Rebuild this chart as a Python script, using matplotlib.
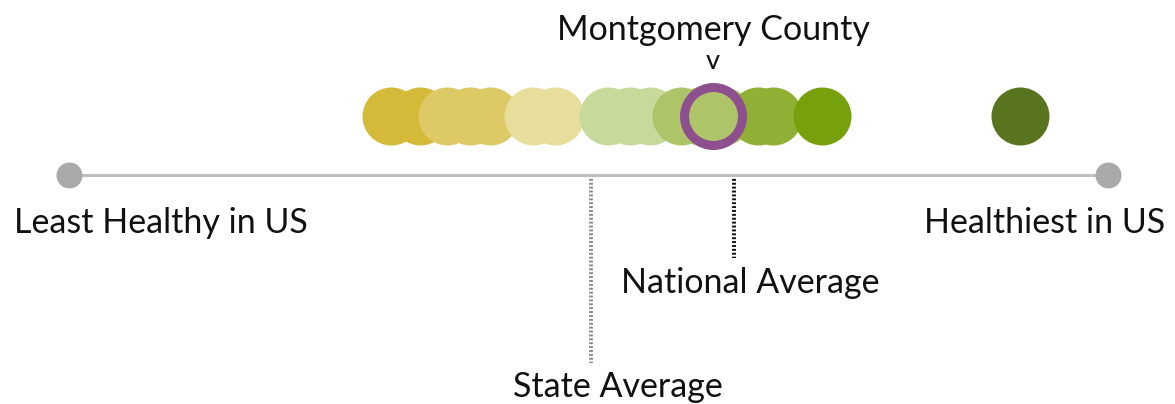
import matplotlib
matplotlib.use("Agg")
import matplotlib.pyplot as plt

# ---- data (score scale: 0 = least healthy in US, 100 = healthiest in US) ----
county_scores = [31.0, 33.8, 36.4, 38.6, 40.5, 44.7, 46.8, 51.9, 54.0, 55.9,
                 58.9, 60.7, 62.9, 66.3, 67.8, 72.5, 91.5]
county_colors = ["#D4BA38", "#D4BA38", "#DDCA67", "#DDCA67", "#DDCA67",
                 "#E8DE9C", "#E8DE9C", "#C7DA9C", "#C7DA9C", "#C7DA9C",
                 "#AEC468", "#AEC468", "#AEC468", "#8FB034", "#8FB034",
                 "#76A00C", "#58741F"]
highlight_name = "Montgomery County"
highlight_score = 62.0
highlight_color = "#AEC468"
state_avg = 50.2
national_avg = 64.0
scale_min, scale_max = 0.0, 100.0
end_labels = ["Least Healthy in US", "Healthiest in US"]

plt.rcParams['font.family'] = ['Lato', 'DejaVu Sans']
FS = 24.5

fig = plt.figure(figsize=(11.75, 4.04), dpi=100)
ax = fig.add_axes([0, 0, 1, 1])
ax.set_xlim(-6.641, 106.45)
ax.set_ylim(404, 0)
ax.axis('off')

Y_DOT = 116
Y_AXIS = 175

# axis line with end points
ax.plot([scale_min, scale_max], [Y_AXIS, Y_AXIS], color="#BFBFBF", lw=2.2,
        zorder=1, solid_capstyle='butt')
ax.scatter([scale_min, scale_max], [Y_AXIS, Y_AXIS], s=(26 * 0.72) ** 2,
           color="#AAAAAA", zorder=2, linewidths=0)

# averages
ax.plot([state_avg, state_avg], [Y_AXIS, 363], color="#8A8A8A", lw=2.8,
        ls=(0, (0.5, 0.5)), zorder=0)
ax.plot([national_avg, national_avg], [Y_AXIS, 258], color="#111111", lw=2.8,
        ls=(0, (0.5, 0.5)), zorder=0)

# counties
d = 58 * 0.72
for i, (s, c) in enumerate(zip(county_scores, county_colors)):
    ax.scatter([s], [Y_DOT], s=d ** 2, color=c, linewidths=0, zorder=3 + i * 0.01)

# highlight county
ax.scatter([highlight_score], [Y_DOT], s=d ** 2, facecolor=highlight_color,
           edgecolor="#8E4F8E", linewidths=9 * 0.72, zorder=4)

# texts
ax.text(highlight_score, 40, highlight_name, ha='center', va='baseline',
        fontsize=FS, color="#111111")
ax.text(highlight_score, 69, "v", ha='center', va='baseline',
        fontsize=FS * 0.8, color="#111111")
ax.text(-5.3, 233, end_labels[0], ha='left', va='baseline', fontsize=FS, color="#111111")
ax.text(105.5, 233, end_labels[1], ha='right', va='baseline', fontsize=FS, color="#111111")
ax.text(national_avg - 10.9, 293, "National Average", ha='left', va='baseline',
        fontsize=FS, color="#111111")
ax.text(state_avg - 7.5, 397, "State Average", ha='left', va='baseline',
        fontsize=FS, color="#111111")

fig.savefig("out.png", dpi=100)
